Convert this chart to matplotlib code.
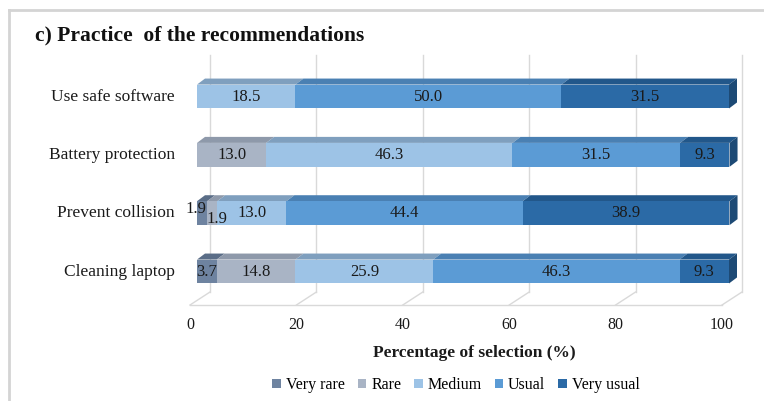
import matplotlib
matplotlib.use("Agg")
import matplotlib.pyplot as plt
from matplotlib.patches import Polygon, Patch
from matplotlib.lines import Line2D

plt.rcParams["font.family"] = ["Liberation Serif", "DejaVu Serif"]

# Survey results (% of respondents), bottom row first
categories = ["Cleaning laptop", "Prevent collision", "Battery protection", "Use safe software"]
levels = ["Very rare", "Rare", "Medium", "Usual", "Very usual"]
very_rare = [3.7, 1.9, 0.0, 0.0]
rare = [14.8, 1.9, 13.0, 0.0]
medium = [25.9, 13.0, 46.3, 18.5]
usual = [46.3, 44.4, 31.5, 50.0]
very_usual = [9.3, 38.9, 9.3, 31.5]
series = [very_rare, rare, medium, usual, very_usual]

front_colors = ["#6e83a0", "#a9b4c5", "#9dc3e6", "#5b9bd5", "#2b6aa6"]
top_colors = ["#5a6d87", "#8e99aa", "#7f9fbe", "#4a80b3", "#22578a"]
side_colors = ["#4d5e75", "#7c8697", "#6e8cab", "#3d6c99", "#1d4a75"]

W, H = 764, 401
fig = plt.figure(figsize=(W / 100, H / 100), dpi=100)

# axes placed so that x=0..100 spans the front plane of the bars
px_left, px_right = 197, 729
px_top, px_bottom = 63.5, 300.5
ax = fig.add_axes([px_left / W, 1 - px_bottom / H,
                   (px_right - px_left) / W, (px_bottom - px_top) / H])
ymin, ymax = -0.497, 3.566
ax.set_xlim(0, 100)
ax.set_ylim(ymin, ymax)
ax.axis("off")

ppx = (px_right - px_left) / 100.0
ppy = (px_bottom - px_top) / (ymax - ymin)


def off(x, y, dx, dy):
    # shift a data point by a pixel offset (dy positive = up)
    return (x + dx / ppx, y + dy / ppy)


grid_c = "#d9d9d9"
ticks = [0, 20, 40, 60, 80, 100]
front = (-7, -4.5)
back = (13, 8.5)

# back wall gridlines, floor diagonals and floor front edge
for t in ticks:
    ax.add_line(Line2D(*zip(off(t, ymin, *back), off(t, ymax, *back)),
                       color=grid_c, lw=1.0, clip_on=False, zorder=0))
    ax.add_line(Line2D(*zip(off(t, ymin, *front), off(t, ymin, *back)),
                       color=grid_c, lw=1.0, clip_on=False, zorder=0))
ax.add_line(Line2D(*zip(off(0, ymin, *front), off(100, ymin, *front)),
                   color=grid_c, lw=1.0, clip_on=False, zorder=0))

for t in ticks:
    x, y = off(t, ymin, *front)
    ax.text(x, y - 20 / ppy, str(t), ha="center", va="center",
            fontsize=11.5, color="#1a1a1a")

bar_h = 0.41
depth = (8, 6)
ypos = list(range(len(categories)))

for i, y in enumerate(ypos):
    left = 0.0
    row = [s[i] for s in series]
    last = max(k for k, v in enumerate(row) if v > 0)
    for k, v in enumerate(row):
        if v <= 0:
            continue
        ax.barh(y, v, left=left, height=bar_h, color=front_colors[k],
                edgecolor="none", zorder=3)
        top = y + bar_h / 2
        ax.add_patch(Polygon([(left, top), (left + v, top),
                              off(left + v, top, *depth), off(left, top, *depth)],
                             closed=True, facecolor=top_colors[k],
                             edgecolor="none", zorder=2, clip_on=False))
        if k == last:
            bot = y - bar_h / 2
            r = left + v
            ax.add_patch(Polygon([(r, bot), (r, top), off(r, top, *depth),
                                  off(r, bot, *depth)],
                                 closed=True, facecolor=side_colors[k],
                                 edgecolor="none", zorder=2, clip_on=False))
        left += v

# value labels on the front faces
label_shift = {(1, 0): (-6, 4), (1, 1): (5, -6)}
for i, y in enumerate(ypos):
    left = 0.0
    for k, s in enumerate(series):
        v = s[i]
        if v <= 0:
            continue
        dx, dy = label_shift.get((i, k), (0, 0))
        x, yy = off(left + v / 2, y, dx, dy)
        ax.text(x, yy, f"{v:.1f}", ha="center", va="center",
                fontsize=12, color="#1a1a1a", zorder=5, clip_on=False)
        left += v

# category names
for i, y in enumerate(ypos):
    ax.text(-22 / ppx, y, categories[i], ha="right", va="center",
            fontsize=12.5, color="#1a1a1a")

fig.text(35 / W, 1 - 35 / H, "c) Practice  of the recommendations",
         fontsize=15.5, fontweight="bold", ha="left", va="center", color="#111111")
fig.text(474 / W, 1 - 353 / H, "Percentage of selection (%)",
         fontsize=12.5, fontweight="bold", ha="center", va="center", color="#1a1a1a")

handles = [Patch(facecolor=c, edgecolor="none") for c in front_colors]
fig.legend(handles, levels, loc="center", bbox_to_anchor=(456 / W, 1 - 385 / H),
           ncol=5, frameon=False, fontsize=11.5, handlelength=0.55, handleheight=0.55,
           handletextpad=0.3, columnspacing=0.8)

# outer frame (top and left edges)
fig.add_artist(Line2D([9 / W, 9 / W], [0, 1 - 10 / H], transform=fig.transFigure,
                      color="#d4d4d4", lw=2))
fig.add_artist(Line2D([9 / W, 1], [1 - 10 / H, 1 - 10 / H], transform=fig.transFigure,
                      color="#d4d4d4", lw=2))

fig.savefig("out.png", dpi=100)
